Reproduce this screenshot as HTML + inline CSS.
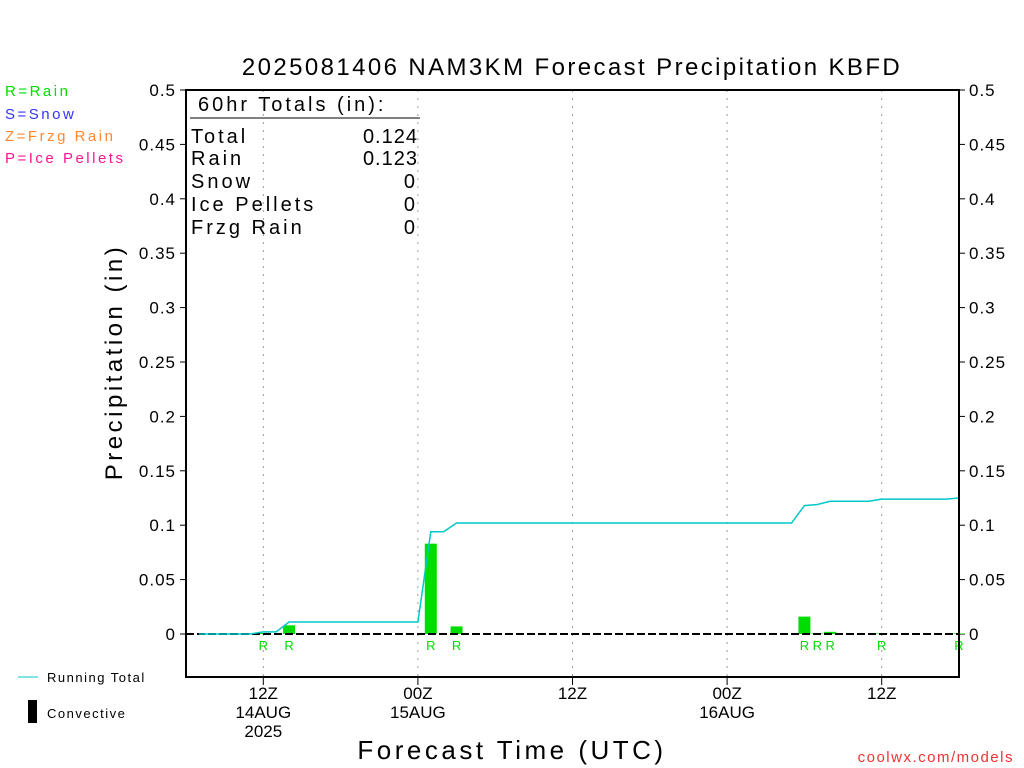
<!DOCTYPE html>
<html><head><meta charset="utf-8"><style>
body{margin:0;background:#fff}
svg{display:block;font-family:"Liberation Sans",sans-serif}
</style></head><body>
<svg id="c" width="1024" height="768" viewBox="0 0 1024 768">
<text x="572" y="75" font-size="24" text-anchor="middle" letter-spacing="2.4">2025081406 NAM3KM Forecast Precipitation KBFD</text>
<text x="5" y="96" font-size="15" fill="#00dd00" letter-spacing="2.5">R=Rain</text>
<text x="5" y="119" font-size="15" fill="#3333ff" letter-spacing="2.5">S=Snow</text>
<text x="5" y="141" font-size="15" fill="#ff8833" letter-spacing="2.5">Z=Frzg Rain</text>
<text x="5" y="163" font-size="15" fill="#ff1493" letter-spacing="2.5">P=Ice Pellets</text>
<text transform="translate(122,362) rotate(-90)" font-size="24" text-anchor="middle" letter-spacing="3.5">Precipitation (in)</text>
<text x="512" y="759" font-size="26" text-anchor="middle" letter-spacing="3.5">Forecast Time (UTC)</text>
<text x="1014" y="762" font-size="15" fill="#ee3333" text-anchor="end" letter-spacing="1.5">coolwx.com/models</text>
<line x1="18" y1="677" x2="38" y2="677" stroke="#00c8c8"/>
<text x="47" y="682" font-size="13" letter-spacing="1.5">Running Total</text>
<rect x="28" y="700" width="9" height="23" fill="#000"/>
<text x="47" y="718" font-size="13" letter-spacing="1.5">Convective</text>
<g font-size="20" letter-spacing="3">
<text x="198" y="111">60hr Totals (in):</text>
<line x1="190" y1="118" x2="420" y2="118" stroke="#000"/>
<text x="191" y="143">Total</text><text x="418" y="143" text-anchor="end" letter-spacing="1">0.124</text>
<text x="191" y="165">Rain</text><text x="418" y="165" text-anchor="end" letter-spacing="1">0.123</text>
<text x="191" y="188">Snow</text><text x="418" y="188" text-anchor="end">0</text>
<text x="191" y="211">Ice Pellets</text><text x="418" y="211" text-anchor="end">0</text>
<text x="191" y="234">Frzg Rain</text><text x="418" y="234" text-anchor="end">0</text>
</g>
<g id="plot"></g>
</svg>
<script>
const yTicks=[0,0.05,0.1,0.15,0.2,0.25,0.3,0.35,0.4,0.45,0.5];
const yTickLabels=["0","0.05","0.1","0.15","0.2","0.25","0.3","0.35","0.4","0.45","0.5"];
const xTickHours=[6,18,30,42,54];
const xTickLabels=[["12Z","14AUG","2025"],["00Z","15AUG"],["12Z"],["00Z","16AUG"],["12Z"]];
const barHours=[6,8,19,21,48,49,50,54,60];
const barValues=[0.001,0.008,0.083,0.007,0.016,0.0005,0.002,0.0005,0.0005];
const totalHours=[1,2,3,4,5,6,7,8,18,19,20,21,47,48,49,50,53,54,59,60];
const totalValues=[0,0,0,0,0,0.002,0.002,0.011,0.011,0.094,0.094,0.102,0.102,0.118,0.119,0.122,0.122,0.124,0.124,0.125];

const NS="http://www.w3.org/2000/svg";
const L=186,R=959,T=90,B=677;
const X=h=>L+h*(R-L)/60;
const Y=v=>634-v*1088;
const g=document.getElementById('plot');
function mk(t,a,p){const e=document.createElementNS(NS,t);for(const k in a)e.setAttribute(k,a[k]);(p||g).appendChild(e);return e;}
xTickHours.forEach((h,i)=>{
 const gl=mk('line',{x1:X(h),x2:X(h),y1:T,y2:B,stroke:'#999','stroke-dasharray':'2,6'});
 
 
 const tk=mk('line',{x1:X(h),x2:X(h),y1:B,y2:B+8,stroke:'#000'});
 
 
 xTickLabels[i].forEach((s,j)=>{
  const t=mk('text',{x:X(h),y:B+22+j*19,'font-size':'17','text-anchor':'middle'});t.textContent=s;
  
  
 });
});
yTicks.forEach((v,i)=>{
 [[L,L-6,L-10,'end'],[R,R+6,R+10,'start']].forEach(([a,b,tx,an])=>{
  const tk=mk('line',{x1:a,x2:b,y1:Y(v),y2:Y(v),stroke:'#000'});
  
  
  const t=mk('text',{x:tx,y:Y(v)+6,'font-size':'17','text-anchor':an,'letter-spacing':'1'});t.textContent=yTickLabels[i];
  
  
 });
});
barHours.forEach((h,i)=>{
 const hgt=Math.max(barValues[i]*1088,0.5);
 const b=mk('rect',{x:X(h)-6,y:Y(0)-hgt,width:12,height:hgt,fill:'#00dd00'});
 
 
 const t=mk('text',{x:X(h),y:Y(0)+16,'font-size':'13','text-anchor':'middle',fill:'#00dd00'});t.textContent='R';
 
 
});
const z=mk('line',{x1:L,x2:R,y1:Y(0),y2:Y(0),stroke:'#000','stroke-width':2,'stroke-dasharray':'8,3'});


const pl=mk('polyline',{points:totalHours.map((h,i)=>X(h)+','+Y(totalValues[i])).join(' '),fill:'none',stroke:'#00c8c8','stroke-width':1.5});


const fr=mk('rect',{x:L,y:T,width:R-L,height:B-T,fill:'none',stroke:'#000','stroke-width':2});


</script>
</body></html>
